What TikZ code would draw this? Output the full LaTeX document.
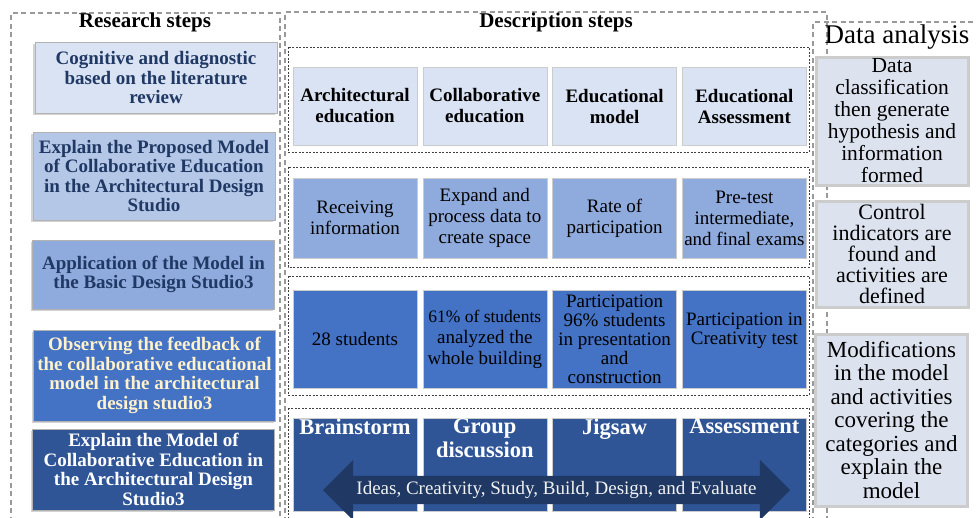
\documentclass[tikz,border=0pt]{standalone}
\usepackage{fontspec}
\setmainfont{Liberation Serif}
\usetikzlibrary{shapes.arrows, shadows}

\definecolor{navytext}{HTML}{1F3864}
\definecolor{cream}{HTML}{FFF2CC}
\definecolor{blueA}{HTML}{DAE3F3}
\definecolor{blueB}{HTML}{B4C7E7}
\definecolor{blueC}{HTML}{8FAADC}
\definecolor{blueD}{HTML}{4472C4}
\definecolor{blueE}{HTML}{2F5597}
\definecolor{blueF}{HTML}{203864}
\definecolor{anafill}{HTML}{DCE3EF}

\tikzset{
    outerframe/.style={draw=black!40, line width=1.1pt, dash pattern=on 5pt off 3.5pt},
    rowframe/.style={draw=black!75, line width=0.6pt, dash pattern=on 2pt off 1.5pt},
    title/.style={font=\bfseries\fontsize{21}{22}\selectfont},
    resbox/.style={draw=black!30, line width=0.6pt, minimum width=242pt, align=center,
        inner sep=0pt, font=\bfseries\fontsize{19}{19.5}\selectfont,
        drop shadow={shadow xshift=-2pt, shadow yshift=-2pt, opacity=0.35}},
    descbox/.style={draw=black!20, line width=0.6pt, minimum width=124pt, align=center,
        inner sep=0pt},
    methodlabel/.style={anchor=north, align=center, inner sep=1pt, text=white,
        font=\bfseries\fontsize{22.5}{24}\selectfont},
    anabox/.style={fill=anafill, draw=black!20, line width=3pt, minimum width=152pt,
        align=center, inner sep=0pt,
        drop shadow={shadow xshift=1pt, shadow yshift=-1.5pt, opacity=0.3}},
}

\newcommand{\descrow}[4]{
    \foreach \txt [count=\i] in {#4} {
        \node[descbox, #3] (#1\i) at (355+129.8*\i-129.8, #2) {\txt};
    }
}

\begin{document}
\begin{tikzpicture}[x=1pt, y=-1pt]
    \useasboundingbox (0,0) rectangle (976,517);

    % dashed frames
    \draw[outerframe] (11,530) -- (11,13) -- (280,13) -- (280,530);
    \draw[outerframe] (285,530) -- (285,12) -- (827,12) -- (827,530);
    \draw[outerframe] (813,530) -- (813,22) -- (990,22);
    \foreach \ya/\yb in {47/152, 167/267, 276/395, 408/530} {
        \draw[rowframe] (288,\ya) rectangle (809,\yb);
    }

    \node[title] (restitle) at (145,22) {Research steps};
    \node[title] (desctitle) at (556,22) {Description steps};
    \node[font=\fontsize{27}{28}\selectfont] (anatitle) at (897,37) {Data analysis};

    % research steps
    \node[resbox, fill=blueA, text=navytext, minimum height=71pt] (res1) at (156,77.5)
        {Cognitive and diagnostic\\based on the literature\\review};
    \node[resbox, fill=blueB, text=navytext, minimum height=88pt] (res2) at (154,176)
        {Explain the Proposed Model\\of Collaborative Education\\in the Architectural Design\\Studio};
    \node[resbox, fill=blueC, text=navytext, minimum height=69pt] (res3) at (153.5,274.5)
        {Application of the Model in\\the Basic Design Studio3};
    \node[resbox, fill=blueD, text=cream, minimum height=91pt] (res4) at (154.5,375.5)
        {Observing the feedback of\\the collaborative educational\\model in the architectural\\design studio3};
    \node[resbox, fill=blueE, text=white, minimum height=81pt] (res5) at (153.5,469.5)
        {Explain the Model of\\Collaborative Education in\\the Architectural Design\\Studio3};

    % description steps
    \descrow{topic}{106}{fill=blueA, minimum height=78pt, font=\bfseries\fontsize{19}{21}\selectfont}
        {Architectural\\education, Collaborative\\education, Educational\\model, Educational\\Assessment}
    \descrow{input}{218}{fill=blueC, minimum height=80pt, font=\fontsize{19}{21}\selectfont}
        {Receiving\\information, Expand and\\process data to\\create space, Rate of\\participation,
         {Pre-test\\intermediate,\\and final exams}}
    \descrow{result}{339}{fill=blueD, minimum height=98pt, font=\fontsize{19}{19}\selectfont}
        {28 students, {\fontsize{17.5}{21}\selectfont 61\% of students\\[2pt]analyzed the\\[2pt]whole building},
         Participation\\96\% students\\in presentation\\and\\construction,
         Participation in\\Creativity test\\[1pt]}
    \foreach \txt [count=\i] in {Brainstorm, Group\\discussion, Jigsaw, Assessment} {
        \node[descbox, fill=blueE, minimum height=93pt, label={[methodlabel]north:\txt}]
            (method\i) at (355+129.8*\i-129.8, 464.5) {};
    }
    \node[double arrow, fill=blueF, minimum height=467pt, double arrow head extend=16pt,
        inner xsep=0pt, inner ysep=5.5pt, text height=13pt, text depth=4pt, text=black!5,
        font=\fontsize{19}{20}\selectfont] (flow) at (556.5,490)
        {Ideas, Creativity, Study, Build, Design, and Evaluate};

    % data analysis
    \node[anabox, minimum height=128pt, font=\fontsize{21.5}{22}\selectfont] (ana1) at (892,121)
        {Data\\classification\\then generate\\hypothesis and\\information\\formed};
    \node[anabox, minimum height=106pt, font=\fontsize{22}{21}\selectfont] (ana2) at (892,254)
        {Control\\indicators are\\found and\\activities are\\defined};
    \node[anabox, minimum height=172pt, font=\fontsize{23}{23.5}\selectfont] (ana3) at (891.5,420)
        {Modifications\\in the model\\and activities\\covering the\\categories and\\explain the\\model};
\end{tikzpicture}
\end{document}
